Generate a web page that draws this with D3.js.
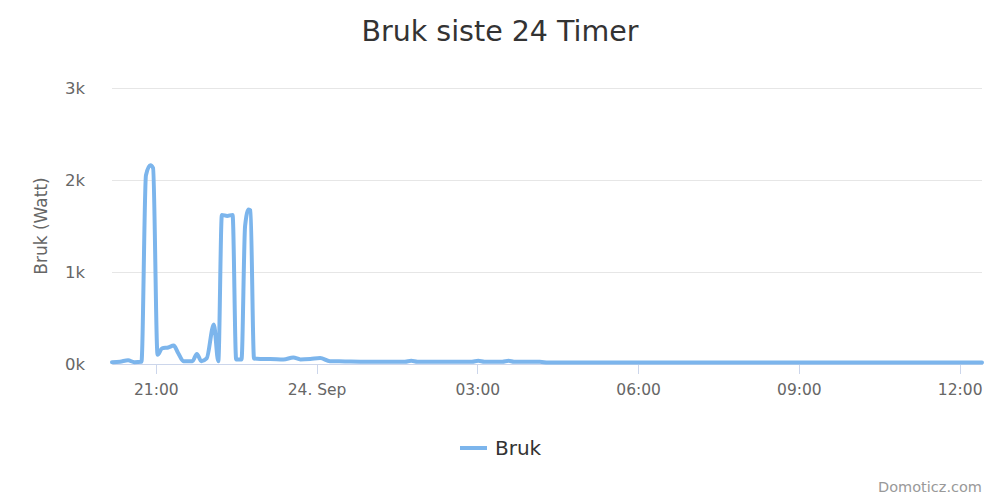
<!DOCTYPE html>
<html lang="no">
	<head>
		<meta charset="utf-8">
		<title>Bruk siste 24 Timer</title>
		<script src="https://cdn.jsdelivr.net/npm/d3@7"></script>
		<style type="text/css">
			body { margin: 0; background: #fff; font-family: "DejaVu Sans", sans-serif; }
			.grid line { stroke: #e6e6e6; stroke-width: 1; shape-rendering: crispEdges; }
			.grid path { display: none; }
			.axis--x path, .axis--x line { stroke: #ccd6eb; stroke-width: 1; shape-rendering: crispEdges; }
			.axis text { fill: #666; font-family: "DejaVu Sans", sans-serif; }
		</style>
	</head>
	<body>
		<svg width="1000" height="500"></svg>
		<script>
		// samples (day hh:mm, watt)
		var times = ["23 20:11", "23 20:20", "23 20:29", "23 20:36", "23 20:44", "23 20:49", "23 20:54", "23 20:57",
			"23 21:02", "23 21:07", "23 21:14", "23 21:20", "23 21:25", "23 21:31", "23 21:41", "23 21:46",
			"23 21:51", "23 21:57", "23 22:05", "23 22:10", "23 22:14", "23 22:20", "23 22:26", "23 22:30",
			"23 22:36", "23 22:40", "23 22:44", "23 22:46", "23 22:50", "23 22:57", "23 23:08", "23 23:23",
			"23 23:34", "23 23:42", "23 23:53", "24 00:04", "24 00:15", "24 00:32", "24 00:49", "24 01:39",
			"24 01:46", "24 01:53", "24 02:54", "24 03:01", "24 03:08", "24 03:28", "24 03:35", "24 03:41",
			"24 04:10", "24 04:19", "24 12:25"];
		var watt = [20, 25, 40, 20, 25, 2050, 2160, 2130,
			100, 170, 180, 200, 120, 30, 30, 110,
			30, 60, 430, 30, 1620, 1610, 1620, 50,
			50, 1500, 1680, 1670, 60, 55, 55, 50,
			70, 50, 55, 65, 30, 28, 25, 25,
			35, 25, 25, 35, 25, 25, 35, 25,
			25, 15, 15];
		var yTicks = [0, 1000, 2000, 3000];
		var xTicks = ["23 21:00", "24 00:00", "24 03:00", "24 06:00", "24 09:00", "24 12:00"];
		var seriesName = "Bruk";

		var parseTime = d3.timeParse("%Y-%m-%d %H:%M");
		function toDate(s) { return parseTime("2017-09-" + s); }

		var data = times.map(function(t, i) { return { date: toDate(t), value: watt[i] }; });

		var svg = d3.select("svg"),
			margin = {top: 88, right: 18, bottom: 136, left: 112},
			width = 1000 - margin.left - margin.right,
			height = 500 - margin.top - margin.bottom,
			g = svg.append("g").attr("transform", "translate(" + margin.left + "," + margin.top + ")");

		var x = d3.scaleTime().domain(d3.extent(data, function(d) { return d.date; })).range([0, width]);
		var y = d3.scaleLinear().domain([0, 3000]).range([height, 0]);

		// title
		svg.append("text")
			.attr("x", 500)
			.attr("y", 41)
			.style("text-anchor", "middle")
			.style("font-size", "28.5px")
			.style("fill", "#333")
			.text("Bruk siste 24 Timer");

		// grid
		g.append("g")
			.attr("class", "grid")
			.call(d3.axisLeft(y).tickValues(yTicks).tickSize(-width).tickFormat(""));

		// y axis labels
		var yAxis = g.append("g")
			.attr("class", "axis axis--y")
			.call(d3.axisLeft(y).tickValues(yTicks).tickSize(0).tickPadding(27)
				.tickFormat(function(d) { return (d / 1000) + "k"; }));
		yAxis.select(".domain").remove();
		yAxis.selectAll("text").style("font-size", "16.5px").attr("dy", "0.35em");

		svg.append("text")
			.attr("transform", "translate(47," + (margin.top + height / 2) + ") rotate(-90)")
			.style("text-anchor", "middle")
			.style("font-size", "17px")
			.style("fill", "#666")
			.text("Bruk (Watt)");

		// x axis
		var xAxis = g.append("g")
			.attr("class", "axis axis--x")
			.attr("transform", "translate(0," + height + ")")
			.call(d3.axisBottom(x).tickValues(xTicks.map(toDate)).tickSize(10).tickSizeOuter(0).tickPadding(10)
				.tickFormat(function(d) { return d.getHours() === 0 ? d3.timeFormat("%d. %b")(d) : d3.timeFormat("%H:%M")(d); }));
		xAxis.selectAll("text").style("font-size", "15.5px");

		// line
		var line = d3.line()
			.curve(d3.curveMonotoneX)
			.x(function(d) { return x(d.date); })
			.y(function(d) { return y(d.value); });

		g.append("path")
			.datum(data)
			.attr("fill", "none")
			.attr("stroke", "#7cb5ec")
			.attr("stroke-width", 4)
			.attr("stroke-linejoin", "round")
			.attr("stroke-linecap", "round")
			.attr("d", line);

		// legend
		svg.append("line")
			.attr("x1", 460).attr("x2", 487)
			.attr("y1", 448).attr("y2", 448)
			.attr("stroke", "#7cb5ec")
			.attr("stroke-width", 4);
		svg.append("text")
			.attr("x", 495)
			.attr("y", 455)
			.style("font-size", "20px")
			.style("fill", "#333")
			.text(seriesName);

		// credits
		svg.append("text")
			.attr("x", 982)
			.attr("y", 492)
			.style("text-anchor", "end")
			.style("font-size", "14.5px")
			.style("fill", "#999")
			.text("Domoticz.com");
		</script>
	</body>
</html>
